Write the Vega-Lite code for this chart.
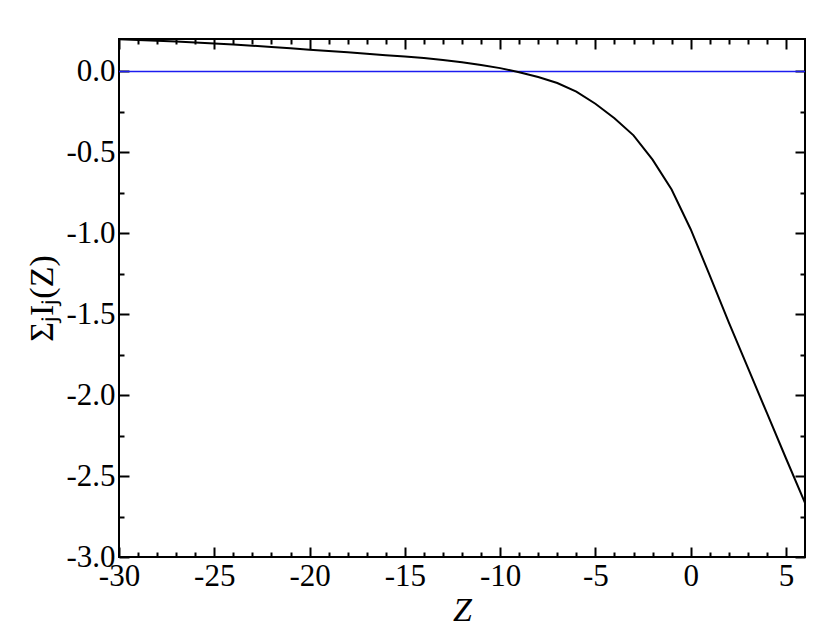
{
  "$schema": "https://vega.github.io/schema/vega-lite/v6.json",
  "width": 686,
  "height": 518,
  "autosize": "none",
  "padding": {"left": 119, "top": 39, "right": 25, "bottom": 85},
  "background": "white",
  "config": {
    "font": "Liberation Serif",
    "view": {"stroke": "black", "strokeWidth": 2},
    "axis": {
      "domain": false,
      "grid": false,
      "zindex": 1,
      "tickColor": "black",
      "tickWidth": 2,
      "labelFont": "Liberation Serif",
      "labelFontSize": 31,
      "labelColor": "black",
      "labelOverlap": false,
      "labelBound": false,
      "labelFlush": false,
      "titleFont": "Liberation Serif",
      "titleFontSize": 34,
      "titleFontWeight": "normal",
      "titleColor": "black"
    }
  },
  "datasets": {
    "curve": [
      {"Z": -30, "S": 0.198}, {"Z": -29, "S": 0.194}, {"Z": -28, "S": 0.189},
      {"Z": -27, "S": 0.184}, {"Z": -26, "S": 0.178}, {"Z": -25, "S": 0.172},
      {"Z": -24, "S": 0.166}, {"Z": -23, "S": 0.159}, {"Z": -22, "S": 0.151},
      {"Z": -21, "S": 0.143}, {"Z": -20, "S": 0.134}, {"Z": -19, "S": 0.126},
      {"Z": -18, "S": 0.118}, {"Z": -17, "S": 0.109}, {"Z": -16, "S": 0.100},
      {"Z": -15, "S": 0.092}, {"Z": -14, "S": 0.083}, {"Z": -13, "S": 0.071},
      {"Z": -12, "S": 0.057}, {"Z": -11, "S": 0.040}, {"Z": -10, "S": 0.020},
      {"Z": -9, "S": -0.005}, {"Z": -8, "S": -0.035}, {"Z": -7, "S": -0.072},
      {"Z": -6, "S": -0.125}, {"Z": -5, "S": -0.2}, {"Z": -4, "S": -0.29},
      {"Z": -3, "S": -0.395}, {"Z": -2, "S": -0.545}, {"Z": -1, "S": -0.73},
      {"Z": 0, "S": -0.975}, {"Z": 1, "S": -1.26}, {"Z": 2, "S": -1.55},
      {"Z": 3, "S": -1.83}, {"Z": 4, "S": -2.11}, {"Z": 5, "S": -2.39},
      {"Z": 6, "S": -2.665}
    ],
    "zero": [{"S": 0}]
  },
  "layer": [
    {
      "data": {"name": "zero"},
      "mark": {"type": "rule", "color": "#1c1cf0", "strokeWidth": 1.5},
      "encoding": {
        "y": {"field": "S", "type": "quantitative", "scale": {"domain": [-3, 0.2], "nice": false, "zero": false}, "axis": null}
      }
    },
    {
      "data": {"name": "curve"},
      "mark": {"type": "line", "color": "black", "strokeWidth": 2},
      "encoding": {
        "x": {
          "field": "Z", "type": "quantitative",
          "scale": {"domain": [-30, 6], "nice": false, "zero": false},
          "title": "Z",
          "axis": {
            "orient": "bottom",
            "values": [-30,-29,-28,-27,-26,-25,-24,-23,-22,-21,-20,-19,-18,-17,-16,-15,-14,-13,-12,-11,-10,-9,-8,-7,-6,-5,-4,-3,-2,-1,0,1,2,3,4,5],
            "tickSize": {"condition": {"test": "datum.value % 5 === 0", "value": -10}, "value": -5},
            "labelPadding": 14,
            "labelFont": "Liberation Serif",
            "labelFontSize": 31,
            "labelExpr": "datum.value % 5 === 0 ? replace(format(datum.value, 'd'), '−', '-') : ''",
            "titleFont": "Liberation Serif",
            "titleFontStyle": "italic",
            "titlePadding": -3
          }
        },
        "y": {
          "field": "S", "type": "quantitative",
          "scale": {"domain": [-3, 0.2], "nice": false, "zero": false},
          "title": "ΣⱼIⱼ(Z)",
          "axis": {
            "orient": "left",
            "values": [-3,-2.75,-2.5,-2.25,-2,-1.75,-1.5,-1.25,-1,-0.75,-0.5,-0.25,0],
            "tickSize": {"condition": {"test": "abs(datum.value*2 - round(datum.value*2)) < 0.001", "value": -10}, "value": -5},
            "labelPadding": 14,
            "labelFont": "Liberation Serif",
            "labelFontSize": 31,
            "labelExpr": "abs(datum.value*2 - round(datum.value*2)) < 0.001 ? replace(format(datum.value, '.1f'), '−', '-') : ''",
            "titleFont": "Liberation Serif",
            "titlePadding": 6
          }
        }
      }
    },
    {
      "data": {"name": "curve"},
      "mark": {"type": "line", "opacity": 0},
      "encoding": {
        "x": {
          "field": "Z", "type": "quantitative",
          "axis": {
            "orient": "top",
            "title": null,
            "labels": false,
            "values": [-30,-29,-28,-27,-26,-25,-24,-23,-22,-21,-20,-19,-18,-17,-16,-15,-14,-13,-12,-11,-10,-9,-8,-7,-6,-5,-4,-3,-2,-1,0,1,2,3,4,5],
            "tickSize": {"condition": {"test": "datum.value % 5 === 0", "value": -10}, "value": -5}
          }
        },
        "y": {
          "field": "S", "type": "quantitative",
          "axis": {
            "orient": "right",
            "title": null,
            "labels": false,
            "values": [-3,-2.75,-2.5,-2.25,-2,-1.75,-1.5,-1.25,-1,-0.75,-0.5,-0.25,0],
            "tickSize": {"condition": {"test": "abs(datum.value*2 - round(datum.value*2)) < 0.001", "value": -10}, "value": -5}
          }
        }
      }
    }
  ],
  "resolve": {"axis": {"x": "independent", "y": "independent"}}
}
